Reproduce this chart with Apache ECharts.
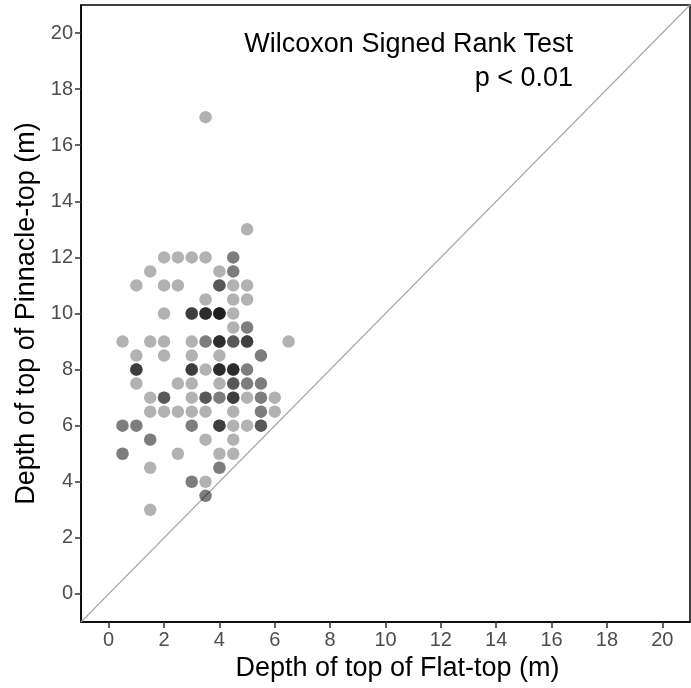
<!DOCTYPE html>
<html>
<head>
<meta charset="utf-8">
<script src="https://cdn.jsdelivr.net/npm/echarts@6/dist/echarts.min.js"></script>
<style>
  html, body { margin: 0; padding: 0; background: #fff; }
  #chart { width: 691px; height: 688px; }
</style>
</head>
<body>
<div id="chart"></div>
<script>
// depth pairs (m), one entry per location, count = overlapping observations
const flatTop = [3.5, 5, 2, 2.5, 3, 3.5, 4.5, 1.5, 4, 4.5, 1, 2, 2.5, 4, 4.5, 5, 3.5, 4.5, 5, 2, 3, 3.5, 4, 4.5,
  4.5, 5, 0.5, 1.5, 2, 3, 3.5, 4, 4.5, 5, 6.5, 1, 2, 3, 4, 5.5, 1, 3, 3.5, 4, 4.5, 5,
  1, 2.5, 3, 4, 4.5, 5, 5.5, 1.5, 2, 3, 3.5, 4, 4.5, 5, 5.5, 6, 1.5, 2, 2.5, 3, 3.5, 4.5, 5.5, 6,
  0.5, 1, 3, 4, 4.5, 5, 5.5, 1.5, 3.5, 4.5, 0.5, 2.5, 4, 4.5, 1.5, 4, 3, 3.5, 3.5, 1.5]
const pinnacleTop = [17, 13, 12, 12, 12, 12, 12, 11.5, 11.5, 11.5, 11, 11, 11, 11, 11, 11, 10.5, 10.5, 10.5, 10, 10, 10, 10, 10,
  9.5, 9.5, 9, 9, 9, 9, 9, 9, 9, 9, 9, 8.5, 8.5, 8.5, 8.5, 8.5, 8, 8, 8, 8, 8, 8,
  7.5, 7.5, 7.5, 7.5, 7.5, 7.5, 7.5, 7, 7, 7, 7, 7, 7, 7, 7, 7, 6.5, 6.5, 6.5, 6.5, 6.5, 6.5, 6.5, 6.5,
  6, 6, 6, 6, 6, 6, 6, 5.5, 5.5, 5.5, 5, 5, 5, 5, 4.5, 4.5, 4, 4, 3.5, 3]
const count = [1, 1, 1, 1, 1, 1, 2, 1, 1, 2, 1, 1, 1, 3, 1, 1, 1, 1, 1, 1, 4, 5, 6, 1,
  1, 2, 1, 1, 1, 1, 2, 5, 3, 4, 1, 1, 1, 1, 1, 2, 4, 4, 1, 5, 5, 2,
  1, 1, 1, 1, 3, 2, 2, 1, 3, 1, 3, 2, 4, 1, 2, 1, 1, 1, 1, 1, 1, 1, 2, 1,
  2, 2, 2, 4, 1, 1, 3, 2, 1, 1, 2, 1, 1, 1, 1, 2, 2, 1, 2, 1]
const tickValues = [0, 2, 4, 6, 8, 10, 12, 14, 16, 18, 20]
const refLine = [-1, 21]
const testLines = ['Wilcoxon Signed Rank Test', 'p < 0.01']

const points = []
flatTop.forEach((x, i) => {
  for (let k = 0; k < count[i]; k++) points.push([x, pinnacleTop[i]])
})

const font = '"Liberation Sans", Arial, Helvetica, sans-serif'

function axisCfg(name, gap, pad) {
  return {
    type: 'value',
    min: -1,
    max: 21,
    name: name,
    nameLocation: 'middle',
    nameGap: gap,
    nameTextStyle: { color: '#000', fontSize: 27, fontFamily: font, padding: pad },
    splitLine: { show: false },
    axisLine: { show: true, onZero: false, lineStyle: { color: '#000', width: 1.5 } },
    axisTick: { show: true, length: 6, customValues: tickValues, lineStyle: { color: '#333', width: 1.5 } },
    axisLabel: { customValues: tickValues, color: '#4d4d4d', fontSize: 20, fontFamily: font, margin: 8 }
  }
}

const chart = echarts.init(document.getElementById('chart'))
chart.setOption({
  animation: false,
  grid: {
    left: 81, right: 1, top: 5, bottom: 66,
    show: true, borderColor: '#000', borderWidth: 1.5
  },
  xAxis: axisCfg('Depth of top of Flat-top (m)', 29, [0, 0, 0, 24]),
  yAxis: axisCfg('Depth of top of Pinnacle-top (m)', 36, 0),
  graphic: testLines.map((t, i) => ({
    type: 'text',
    right: 118,
    top: 31 + i * 34,
    style: { text: t, fill: '#000', font: '27px ' + font }
  })),
  series: [{
    type: 'line',
    data: refLine.map(v => [v, v]),
    symbol: 'none',
    silent: true,
    lineStyle: { color: '#a6a6a6', width: 1.1 },
    z: 1
  }, {
    type: 'scatter',
    data: points,
    symbolSize: 12.5,
    itemStyle: { color: '#000', opacity: 0.3 },
    emphasis: { disabled: true },
    z: 2
  }]
})
</script>
</body>
</html>
